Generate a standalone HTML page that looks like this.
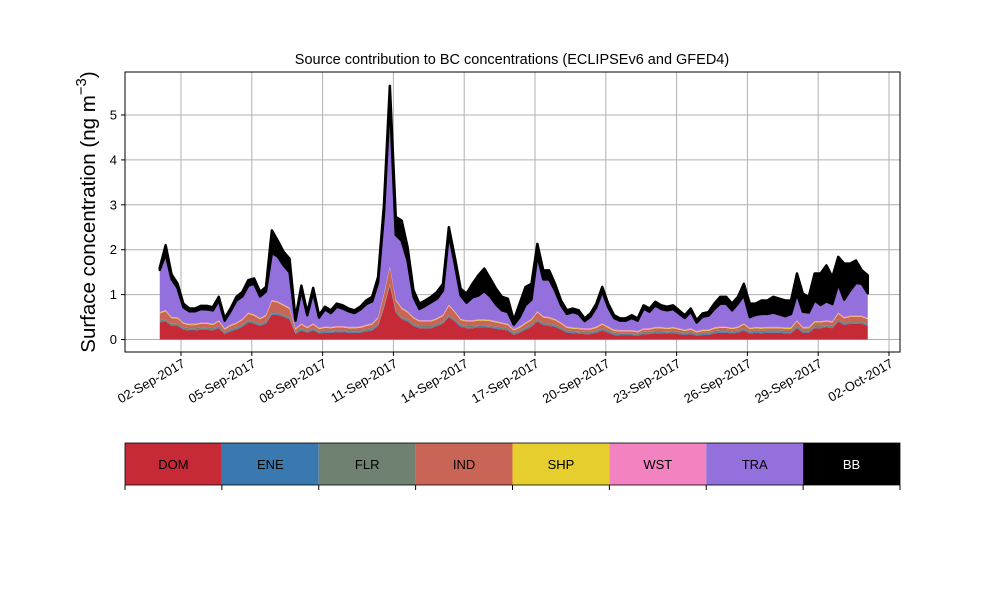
<!DOCTYPE html>
<html><head><meta charset="utf-8"><style>
body{margin:0;background:#fff}
svg text{font-family:"Liberation Sans",sans-serif}
</style></head><body>
<svg id="chart" width="1000" height="600" xmlns="http://www.w3.org/2000/svg">
<text x="512" y="64" font-size="14.5" text-anchor="middle">Source contribution to BC concentrations (ECLIPSEv6 and GFED4)</text>
<text transform="translate(95,212) rotate(-90)" font-size="20.5" text-anchor="middle">Surface concentration (ng m<tspan dy="-9" font-size="15">−3</tspan><tspan dy="9">)</tspan></text>
<g id="grid"></g>
<g id="layers"></g>
<g id="axes"></g>
<g id="legend"></g>
</svg>
<script>
const startDay = 1.1, stepDay = 0.25;
const dom=[.38,.4,.3,.3,.22,.2,.2,.22,.22,.2,.25,.12,.18,.22,.28,.38,.35,.3,.35,.55,.55,.5,.45,.12,.2,.15,.2,.13,.15,.15,.16,.16,.15,.15,.15,.18,.2,.3,.7,1.2,.6,.45,.4,.3,.25,.25,.25,.3,.35,.5,.4,.28,.25,.25,.27,.27,.26,.24,.22,.2,.1,.15,.22,.28,.4,.32,.3,.28,.22,.15,.14,.13,.12,.12,.15,.2,.15,.1,.09,.09,.09,.08,.12,.12,.14,.14,.13,.14,.12,.1,.12,.08,.1,.1,.14,.15,.15,.13,.15,.2,.13,.15,.14,.15,.15,.15,.14,.14,.25,.15,.15,.25,.25,.27,.25,.4,.32,.35,.35,.35,.3];
const ind=[.15,.18,.12,.12,.08,.07,.07,.08,.08,.07,.1,.05,.07,.08,.1,.14,.13,.1,.12,.25,.22,.2,.18,.05,.08,.05,.08,.05,.06,.05,.06,.06,.05,.05,.06,.07,.08,.12,.25,.35,.22,.18,.15,.12,.1,.1,.1,.1,.12,.2,.15,.1,.1,.1,.1,.1,.1,.09,.08,.07,.05,.06,.08,.1,.15,.12,.12,.1,.08,.06,.05,.05,.05,.05,.06,.08,.06,.04,.04,.04,.04,.03,.05,.05,.06,.06,.05,.06,.05,.04,.05,.03,.04,.04,.05,.06,.06,.05,.06,.08,.05,.05,.05,.05,.05,.05,.05,.05,.1,.05,.05,.08,.08,.08,.08,.12,.1,.1,.1,.1,.1];
const ene=[.02,.02,.02,.02,.02,.02,.02,.02,.02,.02,.02,.02,.02,.02,.02,.02,.02,.02,.02,.02,.02,.02,.02,.02,.02,.02,.02,.02,.02,.02,.02,.02,.02,.02,.02,.02,.02,.02,.02,.02,.02,.02,.02,.02,.02,.02,.02,.02,.02,.02,.02,.02,.02,.02,.02,.02,.02,.02,.02,.02,.02,.02,.02,.02,.02,.02,.02,.02,.02,.02,.02,.02,.02,.02,.02,.02,.02,.02,.02,.02,.02,.02,.02,.02,.02,.02,.02,.02,.02,.02,.02,.02,.02,.02,.02,.02,.02,.02,.02,.02,.02,.02,.02,.02,.02,.02,.02,.02,.02,.02,.02,.02,.02,.02,.02,.02,.02,.02,.02,.02,.02];
const flr=[.03,.03,.03,.03,.03,.03,.03,.03,.03,.03,.03,.03,.03,.03,.03,.03,.03,.03,.03,.03,.03,.03,.03,.03,.03,.03,.03,.03,.03,.03,.03,.03,.03,.03,.03,.03,.03,.03,.03,.03,.03,.03,.03,.03,.03,.03,.03,.03,.03,.03,.03,.03,.03,.03,.03,.03,.03,.03,.03,.03,.03,.03,.03,.03,.03,.03,.03,.03,.03,.03,.03,.03,.03,.03,.03,.03,.03,.03,.03,.03,.03,.03,.03,.03,.03,.03,.03,.03,.03,.03,.03,.03,.03,.03,.03,.03,.03,.03,.03,.03,.03,.03,.03,.03,.03,.03,.03,.03,.03,.03,.03,.03,.03,.03,.03,.03,.03,.03,.03,.03,.03];
const shp=[.015,.015,.015,.015,.015,.015,.015,.015,.015,.015,.015,.015,.015,.015,.015,.015,.015,.015,.015,.015,.015,.015,.015,.015,.015,.015,.015,.015,.015,.015,.015,.015,.015,.015,.015,.015,.015,.015,.015,.015,.015,.015,.015,.015,.015,.015,.015,.015,.015,.015,.015,.015,.015,.015,.015,.015,.015,.015,.015,.015,.015,.015,.015,.015,.015,.015,.015,.015,.015,.015,.015,.015,.015,.015,.015,.015,.015,.015,.015,.015,.015,.015,.015,.015,.015,.015,.015,.015,.015,.015,.015,.015,.015,.015,.015,.015,.015,.015,.015,.015,.015,.015,.015,.015,.015,.015,.015,.015,.015,.015,.015,.015,.015,.015,.015,.015,.015,.015,.015,.015,.015];
const wst=[.015,.015,.015,.015,.015,.015,.015,.015,.015,.015,.015,.015,.015,.015,.015,.015,.015,.015,.015,.015,.015,.015,.015,.015,.015,.015,.015,.015,.015,.015,.015,.015,.015,.015,.015,.015,.015,.015,.015,.015,.015,.015,.015,.015,.015,.015,.015,.015,.015,.015,.015,.015,.015,.015,.015,.015,.015,.015,.015,.015,.015,.015,.015,.015,.015,.015,.015,.015,.015,.015,.015,.015,.015,.015,.015,.015,.015,.015,.015,.015,.015,.015,.015,.015,.015,.015,.015,.015,.015,.015,.015,.015,.015,.015,.015,.015,.015,.015,.015,.015,.015,.015,.015,.015,.015,.015,.015,.015,.015,.015,.015,.015,.015,.015,.015,.015,.015,.015,.015,.015,.015];
const tra=[.94,1.24,.85,.65,.34,.28,.28,.30,.29,.30,.44,.17,.30,.49,.50,.60,.68,.48,.52,1.05,1.0,.87,.79,.17,.74,.26,.69,.23,.38,.31,.43,.39,.35,.31,.38,.46,.49,.77,1.77,3.72,1.43,1.49,1.13,.45,.25,.32,.40,.43,.54,1.57,1.06,.52,.39,.51,.53,.63,.52,.37,.27,.26,.10,.21,.39,.43,1.25,.82,.84,.63,.39,.28,.34,.31,.16,.26,.43,.71,.43,.26,.21,.21,.27,.23,.44,.37,.48,.40,.39,.40,.33,.26,.37,.19,.29,.31,.41,.51,.51,.39,.51,.63,.24,.27,.30,.29,.32,.28,.25,.30,.59,.34,.32,.46,.36,.42,.38,.64,.39,.56,.73,.71,.55];
const bb=[.05,.2,.1,.1,.08,.06,.06,.07,.08,.07,.08,.05,.06,.08,.1,.12,.12,.1,.1,.5,.35,.3,.3,.05,.1,.06,.1,.05,.06,.06,.07,.07,.06,.06,.06,.08,.1,.12,.2,.3,.4,.45,.3,.15,.12,.12,.12,.15,.15,.15,.15,.15,.2,.3,.45,.5,.4,.35,.3,.3,.1,.3,.4,.35,.25,.2,.2,.15,.1,.08,.08,.08,.06,.07,.08,.1,.08,.06,.05,.05,.06,.05,.07,.07,.08,.08,.08,.08,.07,.06,.07,.05,.07,.08,.12,.15,.15,.15,.15,.25,.3,.25,.3,.3,.35,.35,.35,.3,.45,.4,.35,.6,.7,.8,.6,.6,.8,.6,.5,.3,.4];
const seriesNames=["DOM","ENE","FLR","IND","SHP","WST","TRA","BB"];
const seriesColors=["#c62a37","#3a78b0","#6f8272","#c96556","#e6ce2e","#f382c0","#9370db","#000000"];
const yTicks=[0,1,2,3,4,5];
const xTickDays=[2,5,8,11,14,17,20,23,26,29,32];
const xTickLabels=["02-Sep-2017","05-Sep-2017","08-Sep-2017","11-Sep-2017","14-Sep-2017","17-Sep-2017","20-Sep-2017","23-Sep-2017","26-Sep-2017","29-Sep-2017","02-Oct-2017"];

const NS="http://www.w3.org/2000/svg";
const L=125,R=900,T=72,B=352;
const xScale=d=>181+(d-2)*23.6;
const yScale=v=>339.5-v*44.9;
function mk(tag,attrs,parent){const e=document.createElementNS(NS,tag);for(const k in attrs)e.setAttribute(k,attrs[k]);parent.appendChild(e);return e;}
const grid=document.getElementById('grid'),axes=document.getElementById('axes'),layers=document.getElementById('layers'),legend=document.getElementById('legend');
xTickDays.forEach((d,i)=>{const x=xScale(d);
  const g=mk('line',{x1:x,x2:x,y1:T,y2:B,stroke:'#b0b0b0','stroke-width':1},grid);
  
  const t=mk('line',{x1:x,x2:x,y1:B,y2:B+4,stroke:'#000'},axes);
  
  const tx=mk('text',{x:0,y:0,'font-size':13,'text-anchor':'end',transform:`translate(${x+5},${B+14}) rotate(-30)`},axes);
  tx.textContent=xTickLabels[i];
  
});
yTicks.forEach(v=>{const y=yScale(v);
  const g=mk('line',{x1:L,x2:R,y1:y,y2:y,stroke:'#b0b0b0','stroke-width':1},grid);
  
  const t=mk('line',{x1:L-4,x2:L,y1:y,y2:y,stroke:'#000'},axes);
  
  const tx=mk('text',{x:L-8,y:y+4.5,'font-size':13,'text-anchor':'end'},axes);
  tx.textContent=String(v);
  
});
const data=[dom,ene,flr,ind,shp,wst,tra,bb];
const n=dom.length;
let base=new Array(n).fill(0);
data.forEach((s,k)=>{
  const top=base.map((b,i)=>b+s[i]);
  let d='';
  for(let i=0;i<n;i++){d+=(i?'L':'M')+xScale(startDay+i*stepDay).toFixed(2)+','+yScale(top[i]).toFixed(2);}
  for(let i=n-1;i>=0;i--){d+='L'+xScale(startDay+i*stepDay).toFixed(2)+','+yScale(base[i]).toFixed(2);}
  const p=mk('path',{d:d+'Z',fill:seriesColors[k],stroke:k===7?'#000':'none','stroke-width':k===7?2.5:0,'stroke-linejoin':'round'},layers);
  
  
  base=top;
});
const frame=mk('rect',{x:L,y:T,width:R-L,height:B-T,fill:'none',stroke:'#000','stroke-width':1},axes);

const lw=(R-L)/8;
seriesNames.forEach((nm,i)=>{
  const x=L+i*lw;
  const r=mk('rect',{x:x,y:443,width:lw,height:42,fill:seriesColors[i]},legend);
  
  const t=mk('text',{x:x+lw/2,y:469,'font-size':13,'text-anchor':'middle',fill:i===7?'#fff':'#000'},legend);
  t.textContent=nm;
  
});
for(let i=0;i<=8;i++){const x=L+i*lw;
  const t=mk('line',{x1:x,x2:x,y1:485,y2:490,stroke:'#000'},legend);
  }
const lf=mk('rect',{x:L,y:443,width:R-L,height:42,fill:'none',stroke:'#000','stroke-width':0.8},legend);

</script>
</body></html>
